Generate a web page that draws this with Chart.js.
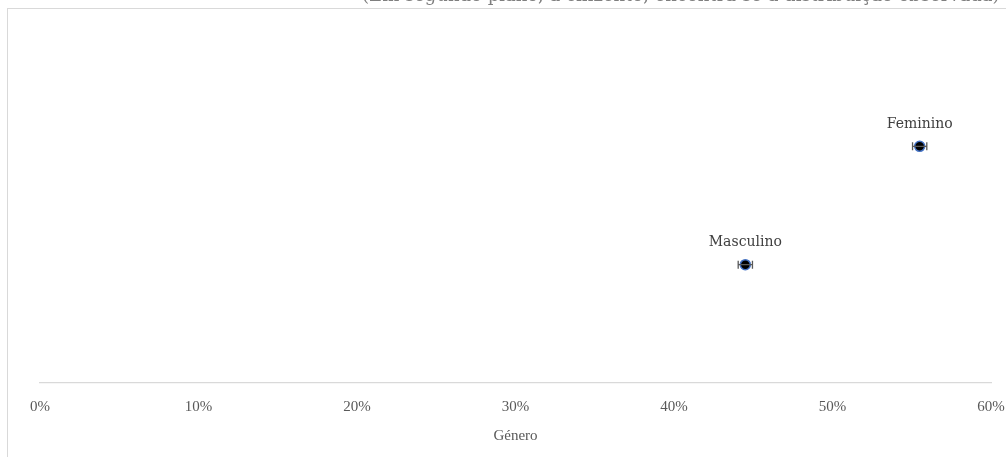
<!DOCTYPE html>
<html>
<head>
<meta charset="utf-8">
<script src="https://cdn.jsdelivr.net/npm/chart.js@4/dist/chart.umd.min.js"></script>
<style>
  html, body { margin: 0; padding: 0; background: #fff; overflow: hidden; }
  #wrap { position: relative; width: 1006px; height: 457px; }
  #frame { position: absolute; left: 7px; top: 8px; width: 1010px; height: 460px; border: 1px solid #d9d9d9; box-sizing: border-box; }
  canvas { position: absolute; left: 0; top: 0; }
</style>
</head>
<body>
<div id="wrap">
  <div id="frame"></div>
  <canvas id="c" width="1006" height="457"></canvas>
</div>
<script>
// ---- data ----
const categories = ["Masculino", "Feminino"];
const shares = [44.5, 55.5];          // percent
const errors = [0.45, 0.45];          // +/- percent
const xTicks = [0, 10, 20, 30, 40, 50, 60];
const axisTitle = "Género";
const subtitle = "(Em segundo plano, a cinzento, encontra-se a distribuição observada)";

const points = categories.map((c, i) => ({ x: shares[i], y: i + 1, label: c, err: errors[i] }));

const extras = {
  id: 'extras',
  afterDatasetsDraw(chart) {
    const ctx = chart.ctx;
    const xs = chart.scales.x, ys = chart.scales.y;
    ctx.save();
    // error bars
    ctx.strokeStyle = '#595959';
    ctx.lineWidth = 1.3;
    points.forEach(p => {
      const x1 = xs.getPixelForValue(p.x - p.err);
      const x2 = xs.getPixelForValue(p.x + p.err);
      const y = ys.getPixelForValue(p.y);
      ctx.beginPath();
      ctx.moveTo(x1, y); ctx.lineTo(x2, y);
      ctx.moveTo(x1, y - 4); ctx.lineTo(x1, y + 4);
      ctx.moveTo(x2, y - 4); ctx.lineTo(x2, y + 4);
      ctx.stroke();
    });
    // labels
    ctx.fillStyle = '#404040';
    ctx.font = '14px "DejaVu Serif"';
    ctx.textAlign = 'center';
    ctx.textBaseline = 'middle';
    points.forEach(p => {
      const x = xs.getPixelForValue(p.x);
      const y = ys.getPixelForValue(p.y);
      ctx.fillText(p.label, x, y - 22);
    });
    // axis title
    ctx.fillStyle = '#595959';
    ctx.font = '15px "Liberation Serif"';
    ctx.fillText(axisTitle, (xs.left + xs.right) / 2, xs.top + 53);
    // clipped subtitle at top
    ctx.fillStyle = '#7f7f7f';
    ctx.font = '18px "DejaVu Serif"';
    ctx.textAlign = 'left';
    ctx.textBaseline = 'alphabetic';
    ctx.fillText(subtitle, 362, 1);
    ctx.restore();
  }
};

new Chart(document.getElementById('c'), {
  type: 'scatter',
  data: {
    datasets: [{
      data: points,
      pointRadius: 5,
      pointHoverRadius: 5,
      backgroundColor: '#000000',
      borderColor: '#4472C4',
      borderWidth: 1.5
    }]
  },
  options: {
    responsive: false,
    animation: false,
    layout: { padding: { left: 40, right: 15, top: 28, bottom: 26 } },
    plugins: { legend: { display: false }, tooltip: { enabled: false } },
    scales: {
      x: {
        type: 'linear',
        min: xTicks[0],
        max: xTicks[xTicks.length - 1],
        afterBuildTicks(scale) { scale.ticks = xTicks.map(v => ({ value: v })); },
        afterFit(scale) { scale.paddingLeft = 0; scale.paddingRight = 0; },
        grid: { display: false, drawTicks: false },
        border: { display: true, color: '#d9d9d9', width: 1.3 },
        ticks: {
          padding: 15,
          color: '#595959',
          font: { family: 'Liberation Serif', size: 15 },
          maxRotation: 0,
          callback: v => v + '%'
        },
        title: { display: false }
      },
      y: {
        type: 'linear',
        min: 0,
        max: categories.length + 1,
        display: false
      }
    }
  },
  plugins: [extras]
});
</script>
</body>
</html>
